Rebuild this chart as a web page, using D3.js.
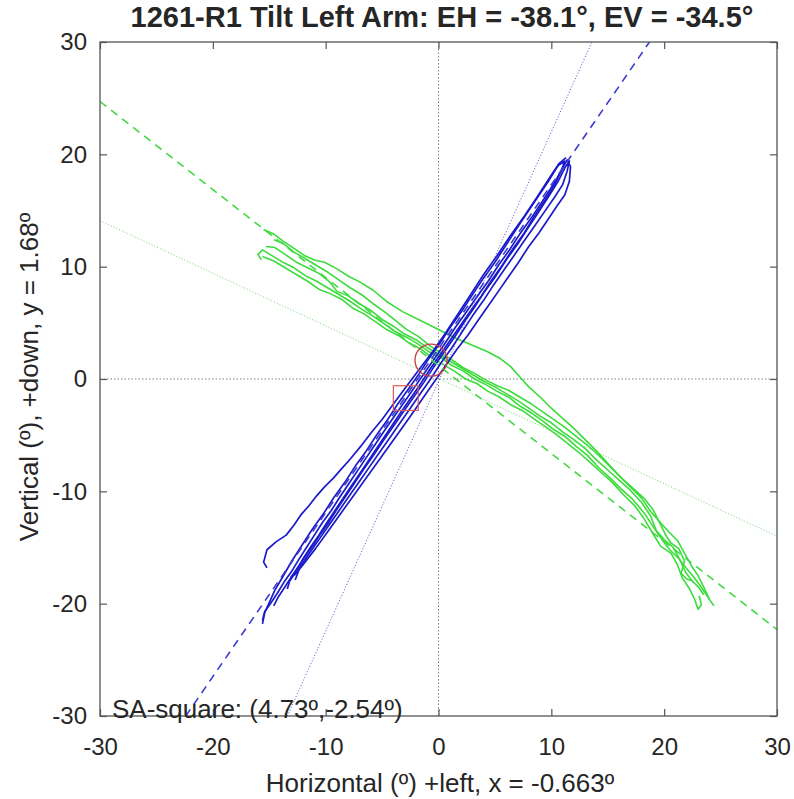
<!DOCTYPE html>
<html>
<head>
<meta charset="utf-8">
<script src="https://cdnjs.cloudflare.com/ajax/libs/d3/7.8.5/d3.min.js"></script>
<style>
  html, body { margin: 0; padding: 0; background: #fff; }
  svg text { font-family: "Liberation Sans", Arial, Helvetica, sans-serif; fill: #262626; }
</style>
</head>
<body>
<div id="chart"></div>
<script>
// axes
const xTicks = [-30, -20, -10, 0, 10, 20, 30];
const yTicks = [-30, -20, -10, 0, 10, 20, 30];
const titleText = '1261-R1 Tilt Left Arm: EH = -38.1°, EV = -34.5°';
const xLabelText = 'Horizontal (º) +left, x = -0.663º';
const yLabelText = 'Vertical (º), +down, y = 1.68º';
const noteText = 'SA-square: (4.73º,-2.54º)';

// fitted lines (end points, degrees)
const greenDash = [[-30, 24.7], [30, -22.3]];
const greenDot  = [[-30, 14.1], [30, -14.0]];
const blueDash  = [[-22.4, -30], [18.7, 30]];
const blueDot   = [[-13.4, -30], [13.6, 30]];

// markers
const circleCenter = [-0.663, 1.68];
const circleRadius = 1.42;
const squareCenter = [-2.9, -1.7];
const squareHalf = 1.1;

// green traces (horizontal, vertical in degrees)
const green1 = [[-15.5,13.3],[-14.6,12.9],[-13.8,12.3],[-12.9,11.7],[-11.9,11.0],[-11.0,10.6],[-10.1,10.4],[-9.0,9.8],[-7.9,9.1],[-6.9,8.6],[-5.8,7.9],[-4.6,6.9],[-3.2,6.0],[-1.6,5.2],[0.0,4.4],[1.6,3.6],[3.0,3.0],[4.4,2.4],[5.5,1.8],[6.4,1.1],[7.2,0.2],[8.0,-0.7],[9.0,-1.6],[10.0,-2.6],[11.0,-3.5],[12.0,-4.4],[13.0,-5.4],[14.0,-6.4],[15.0,-7.5],[16.0,-8.6],[17.0,-9.6],[18.0,-10.6],[18.8,-11.8],[19.6,-12.7],[20.4,-13.6],[21.2,-14.4],[21.8,-15.5],[22.4,-16.6],[23.0,-17.5],[23.5,-18.5],[24.0,-19.6]];
const green2 = [[-15.7,10.6],[-16.0,11.1],[-15.6,11.5],[-14.8,11.0],[-13.8,10.4],[-12.8,9.9],[-11.8,9.2],[-10.8,8.7],[-9.8,8.1],[-8.8,7.5],[-7.8,6.9],[-6.8,6.2],[-5.8,5.6],[-4.8,4.9],[-3.8,4.2],[-2.8,3.7],[-1.8,3.1],[-0.8,2.4],[0.2,1.9],[1.2,1.2],[2.2,0.7],[3.2,0.0],[4.2,-0.5],[5.2,-1.1],[6.2,-1.6],[7.2,-2.4],[8.2,-3.0],[9.2,-3.7],[10.2,-4.5],[11.2,-5.1],[12.2,-6.0],[13.2,-6.8],[14.2,-7.9],[15.2,-8.8],[16.2,-9.8],[17.2,-10.7],[18.2,-11.9],[19.0,-13.1],[19.8,-14.3],[20.5,-15.2],[21.3,-16.0],[22.0,-16.9],[22.6,-17.6],[23.2,-18.4],[23.8,-19.3],[24.4,-20.2]];
const green3 = [[-15.3,11.8],[-14.5,11.7],[-13.6,11.1],[-12.6,10.4],[-11.6,9.9],[-10.6,9.4],[-9.7,8.7],[-9.0,7.8],[-8.0,7.4],[-7.0,6.7],[-6.0,6.1],[-5.0,5.3],[-4.0,4.7],[-3.0,4.0],[-2.0,3.5],[-1.0,2.8],[0.0,2.2],[1.0,1.6],[2.0,1.0],[3.0,0.4],[4.0,-0.2],[5.0,-0.7],[6.0,-1.3],[7.0,-1.9],[8.0,-2.6],[9.0,-3.3],[10.0,-3.9],[11.0,-4.7],[12.0,-5.4],[13.0,-6.2],[14.0,-7.2],[15.0,-8.1],[16.0,-9.0],[17.0,-9.9],[18.0,-11.0],[18.8,-12.2],[19.3,-13.5],[20.0,-14.3],[20.8,-15.0],[21.4,-16.1],[21.9,-17.2],[22.5,-18.0],[23.1,-18.6],[23.5,-19.2]];
const green4 = [[-15.6,10.9],[-14.6,10.5],[-13.6,9.9],[-12.6,9.3],[-11.6,8.7],[-10.6,8.0],[-9.6,7.6],[-8.6,7.1],[-7.6,6.3],[-6.6,5.8],[-5.6,5.1],[-4.6,4.4],[-3.6,3.9],[-2.6,3.2],[-1.6,2.7],[-0.6,1.9],[0.4,1.3],[1.4,0.7],[2.4,0.0],[3.4,-0.4],[4.4,-1.1],[5.4,-1.6],[6.4,-2.3],[7.4,-2.8],[8.4,-3.5],[9.4,-4.2],[10.4,-4.9],[11.4,-5.7],[12.4,-6.5],[13.4,-7.4],[14.4,-8.3],[15.4,-9.2],[16.4,-10.3],[17.4,-11.3],[18.2,-12.4],[18.9,-13.6],[19.7,-14.9],[20.6,-15.5],[21.2,-16.6],[21.6,-17.7],[22.2,-18.6],[22.7,-19.6],[23.0,-20.5],[23.3,-20.1],[23.1,-19.3]];
const green5 = [[-14.6,12.4],[-13.8,12.1],[-12.8,11.3],[-11.8,10.7],[-10.8,10.1],[-9.8,9.5],[-8.8,8.8],[-7.8,8.1],[-6.8,7.5],[-5.8,6.7],[-4.8,6.0],[-3.8,5.2],[-2.8,4.4],[-1.8,3.8],[-0.8,3.0],[0.2,2.3],[1.2,1.7],[2.2,1.0],[3.2,0.5],[4.2,-0.1],[5.2,-0.6],[6.2,-1.0],[7.2,-1.6],[8.2,-2.2],[9.2,-2.9],[10.2,-3.6],[11.2,-4.3],[12.2,-5.1],[13.2,-5.9],[14.2,-6.8],[15.2,-7.8],[16.2,-8.8],[17.2,-9.7],[18.2,-10.6],[19.0,-11.6],[19.6,-12.8],[20.2,-14.0],[20.6,-14.6],[21.3,-15.1],[21.8,-16.2],[21.5,-17.3],[22.0,-17.8],[22.6,-18.0]];

// blue traces
const blue1 = [[-15.2,-16.8],[-15.5,-16.3],[-15.2,-15.2],[-14.4,-14.5],[-13.5,-13.9],[-12.8,-13.0],[-12.2,-12.1],[-11.5,-11.3],[-10.8,-10.4],[-10.1,-9.6],[-9.3,-8.8],[-8.6,-8.0],[-7.8,-7.1],[-6.9,-6.0],[-5.9,-4.7],[-5.0,-3.6],[-3.9,-2.1],[-2.8,-0.6],[-1.6,1.0],[-0.4,2.6],[0.7,4.2],[1.8,5.9],[2.9,7.6],[4.0,9.3],[5.2,11.0],[6.4,12.8],[7.6,14.5],[8.8,16.3],[9.9,18.0],[10.7,19.2],[11.3,19.7]];
const blue2 = [[-15.6,-21.5],[-15.4,-20.7],[-14.9,-20.0],[-14.3,-19.1],[-13.7,-18.1],[-13.0,-17.1],[-12.4,-16.1],[-11.7,-15.0],[-11.0,-13.9],[-10.3,-12.8],[-9.5,-11.7],[-8.8,-10.6],[-8.0,-9.4],[-7.2,-8.2],[-6.4,-7.0],[-5.6,-5.8],[-4.8,-4.6],[-3.9,-3.3],[-3.0,-2.0],[-2.1,-0.7],[-1.2,0.6],[-0.3,1.9],[0.6,3.2],[1.5,4.6],[2.5,6.0],[3.4,7.3],[4.4,8.7],[5.3,10.1],[6.3,11.5],[7.2,12.9],[8.2,14.3],[9.2,15.8],[10.1,17.2],[10.8,18.4],[11.4,19.5],[11.7,18.9],[11.6,17.6],[11.2,16.4],[10.5,15.4],[9.7,14.2],[8.9,13.0],[8.0,11.8],[7.1,10.4],[6.2,9.1],[5.3,7.8],[4.4,6.5],[3.5,5.2],[2.6,3.9],[1.6,2.6],[0.7,1.3],[-0.2,0.0],[-1.1,-1.3],[-2.0,-2.6],[-2.9,-3.9],[-3.9,-5.3],[-4.9,-6.7],[-5.9,-8.1],[-6.9,-9.5],[-7.9,-10.9],[-8.9,-12.3],[-9.9,-13.7],[-10.9,-15.1],[-11.9,-16.4],[-12.7,-17.4],[-13.1,-17.6]];
const blue3 = [[-13.4,-18.7],[-13.2,-18.0],[-12.6,-17.1],[-12.0,-16.0],[-11.3,-14.9],[-10.6,-13.9],[-9.9,-12.8],[-9.1,-11.6],[-8.3,-10.4],[-7.5,-9.2],[-6.7,-8.0],[-5.9,-6.8],[-5.1,-5.6],[-4.3,-4.4],[-3.5,-3.2],[-2.6,-1.9],[-1.7,-0.6],[-0.8,0.8],[0.1,2.1],[1.0,3.4],[1.9,4.7],[2.8,6.0],[3.8,7.4],[4.7,8.8],[5.7,10.2],[6.6,11.6],[7.6,13.0],[8.5,14.5],[9.5,16.0],[10.3,17.3],[10.9,18.6],[11.2,19.4],[10.6,19.0],[9.8,17.7],[8.8,16.2],[7.8,14.7],[6.8,13.2],[5.9,11.8],[5.0,10.4],[4.0,9.0],[3.0,7.5],[2.1,6.1],[1.1,4.7],[0.2,3.3],[-0.8,1.9],[-1.7,0.5],[-2.6,-0.8],[-3.6,-2.2],[-4.5,-3.6],[-5.5,-5.0],[-6.4,-6.4],[-7.4,-7.8],[-8.3,-9.2],[-9.3,-10.6],[-10.2,-12.0],[-11.2,-13.4],[-12.1,-14.8],[-13.0,-16.2],[-13.8,-17.6],[-14.5,-18.8],[-15.0,-19.9],[-15.4,-20.8],[-15.6,-21.8]];
const blue4 = [[-14.6,-20.2],[-14.2,-19.4],[-13.6,-18.5],[-12.9,-17.4],[-12.3,-16.5],[-11.7,-15.6],[-11.0,-14.6],[-10.4,-13.7],[-9.7,-12.7],[-9.0,-11.6],[-8.2,-10.4],[-7.4,-9.2],[-6.6,-8.0],[-5.7,-6.7],[-4.9,-5.5],[-4.0,-4.2],[-3.1,-2.9],[-2.2,-1.6],[-1.3,-0.3],[-0.4,1.1],[0.5,2.4],[1.4,3.7],[2.3,5.1],[3.2,6.4],[4.1,7.8],[5.1,9.2],[6.0,10.6],[7.0,12.0],[7.9,13.4],[8.9,14.9],[9.8,16.3],[10.6,17.6],[11.2,18.8],[11.6,19.4],[11.4,18.5],[11.0,17.3],[10.3,16.2],[9.4,14.9],[8.5,13.6],[7.6,12.3],[6.7,11.0],[5.8,9.7],[4.9,8.4],[4.0,7.0],[3.0,5.6],[2.1,4.2],[1.2,2.8],[0.2,1.4],[-0.7,0.0],[-1.6,-1.3],[-2.5,-2.6],[-3.4,-3.9],[-4.3,-5.2],[-5.2,-6.5],[-6.1,-7.8],[-7.0,-9.1],[-7.9,-10.4],[-8.8,-11.7],[-9.7,-13.0],[-10.6,-14.3],[-11.5,-15.6],[-12.3,-16.8],[-12.7,-17.9]];

const greenTraces = [green1, green2, green3, green4, green5];
const blueTraces = [blue1, blue2, blue3, blue4];

const W = 794, H = 799;
const pLeft = 100, pRight = 777, pTop = 42, pBottom = 716;

const svg = d3.select('#chart').append('svg')
  .attr('width', W).attr('height', H);

const x = d3.scaleLinear().domain([-30, 30]).range([pLeft, pRight]);
const y = d3.scaleLinear().domain([-30, 30]).range([pBottom, pTop]);

svg.append('defs').append('clipPath').attr('id', 'plotclip')
  .append('rect').attr('x', pLeft).attr('y', pTop)
  .attr('width', pRight - pLeft).attr('height', pBottom - pTop);

const plot = svg.append('g').attr('clip-path', 'url(#plotclip)');
const line = d3.line().x(d => x(d[0])).y(d => y(d[1]));

// zero lines
plot.append('line')
  .attr('x1', x(0)).attr('x2', x(0)).attr('y1', pTop).attr('y2', pBottom)
  .attr('stroke', '#808080').attr('stroke-width', 1).attr('stroke-dasharray', '1.5,2');
plot.append('line')
  .attr('x1', pLeft).attr('x2', pRight).attr('y1', y(0)).attr('y2', y(0))
  .attr('stroke', '#808080').attr('stroke-width', 1).attr('stroke-dasharray', '1.5,2');

plot.append('g').selectAll('path')
  .data(greenTraces).join('path')
  .attr('d', line).attr('fill', 'none')
  .attr('stroke', '#3cdc3c').attr('stroke-width', 1.6)
  .attr('stroke-linejoin', 'round');

plot.append('g').selectAll('path')
  .data(blueTraces).join('path')
  .attr('d', line).attr('fill', 'none')
  .attr('stroke', '#1a1acc').attr('stroke-width', 1.7)
  .attr('stroke-linejoin', 'round');

plot.append('path').attr('d', line(greenDot)).attr('fill', 'none')
  .attr('stroke', '#70d870').attr('stroke-width', 1).attr('stroke-dasharray', '1,2');
plot.append('path').attr('d', line(blueDot)).attr('fill', 'none')
  .attr('stroke', '#5050c8').attr('stroke-width', 1).attr('stroke-dasharray', '1,2');
plot.append('path').attr('d', line(greenDash)).attr('fill', 'none')
  .attr('stroke', '#44d844').attr('stroke-width', 1.6).attr('stroke-dasharray', '8,6');
plot.append('path').attr('d', line(blueDash)).attr('fill', 'none')
  .attr('stroke', '#3c3cd2').attr('stroke-width', 1.6).attr('stroke-dasharray', '8,6');

// markers
plot.append('circle')
  .attr('cx', x(circleCenter[0])).attr('cy', y(circleCenter[1]))
  .attr('r', x(circleRadius) - x(0))
  .attr('fill', 'none').attr('stroke', '#c83c46').attr('stroke-width', 1.3);
plot.append('rect')
  .attr('x', x(squareCenter[0] - squareHalf)).attr('y', y(squareCenter[1] + squareHalf))
  .attr('width', x(squareHalf * 2) - x(0)).attr('height', y(0) - y(squareHalf * 2))
  .attr('fill', 'none').attr('stroke', '#d85a5a').attr('stroke-width', 1.2);

// axes: box with inside ticks
const axisColor = '#555';
const fmt = d => String(d);
function styleAxis(g) {
  g.select('.domain').remove();
  g.selectAll('.tick line').attr('stroke', axisColor).attr('stroke-width', 1.2);
  g.selectAll('.tick text').style('font-size', '24px').attr('fill', '#262626');
}
svg.append('g').attr('transform', `translate(0,${pBottom})`)
  .call(d3.axisBottom(x).tickValues(xTicks).tickFormat(fmt).tickSizeInner(-7).tickSizeOuter(0).tickPadding(22))
  .call(styleAxis);
svg.append('g').attr('transform', `translate(${pLeft},0)`)
  .call(d3.axisLeft(y).tickValues(yTicks).tickFormat(fmt).tickSizeInner(-7).tickSizeOuter(0).tickPadding(13))
  .call(styleAxis);
svg.append('g').attr('transform', `translate(0,${pTop})`)
  .call(d3.axisTop(x).tickValues(xTicks).tickSizeInner(-7).tickSizeOuter(0).tickFormat(''))
  .call(styleAxis);
svg.append('g').attr('transform', `translate(${pRight},0)`)
  .call(d3.axisRight(y).tickValues(yTicks).tickSizeInner(-7).tickSizeOuter(0).tickFormat(''))
  .call(styleAxis);

svg.append('rect')
  .attr('x', pLeft).attr('y', pTop).attr('width', pRight - pLeft).attr('height', pBottom - pTop)
  .attr('fill', 'none').attr('stroke', axisColor).attr('stroke-width', 1.3);

// text
svg.append('text').attr('x', 442).attr('y', 27).attr('text-anchor', 'middle')
  .style('font-size', '29px').style('font-weight', 'bold').attr('fill', '#000')
  .text(titleText);
svg.append('text').attr('x', 440).attr('y', 792).attr('text-anchor', 'middle')
  .style('font-size', '26px').text(xLabelText);
svg.append('text').attr('transform', 'translate(38,377) rotate(-90)').attr('text-anchor', 'middle')
  .style('font-size', '26px').text(yLabelText);
svg.append('text').attr('x', 112).attr('y', 718)
  .style('font-size', '26px').attr('fill', '#1a1a1a').text(noteText);
</script>
</body>
</html>
